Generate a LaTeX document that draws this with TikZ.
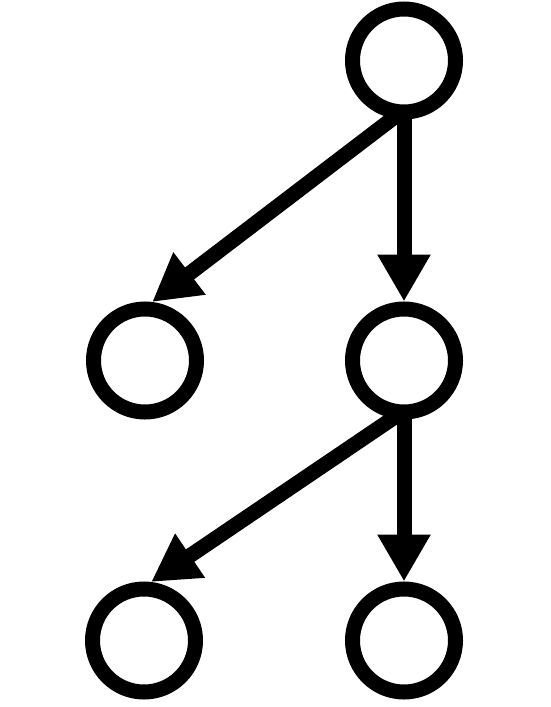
\documentclass[tikz,border=0pt]{standalone}
\usetikzlibrary{arrows.meta}
\begin{document}
\begin{tikzpicture}[x=1pt,y=-1pt,
  vert/.style={circle,draw=black,line width=15pt,minimum size=103pt,inner sep=0pt,fill=white},
  edge/.style={line width=15pt,shorten <=-6pt,-{Triangle[width=50pt,length=47pt]}}]
\useasboundingbox (0,0) rectangle (550,707);
\node[vert] (t) at (404,60.5) {};
\node[vert] (ml) at (145,360.5) {};
\node[vert] (mr) at (404,360.5) {};
\node[vert] (bl) at (144,640.5) {};
\node[vert] (br) at (404,640.5) {};
\draw[edge] (t.south) -- (mr.north);
\draw[edge] (t.259) -- (ml.83);
\draw[edge] (mr.south) -- (br.north);
\draw[edge] (mr.259) -- (bl.83);
\end{tikzpicture}
\end{document}
